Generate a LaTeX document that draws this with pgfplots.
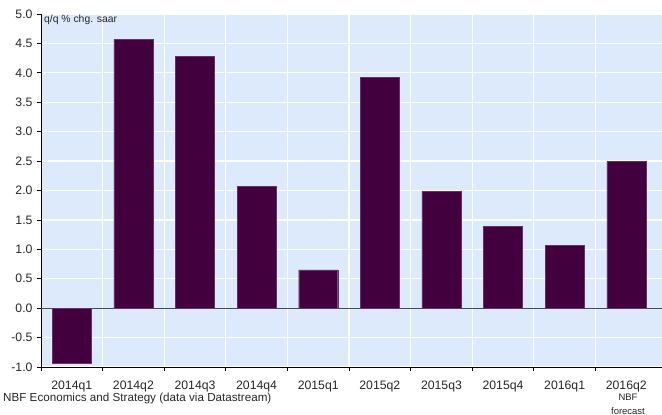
\documentclass[border=0pt]{standalone}
\usepackage{pgfplots}
\pgfplotsset{compat=1.18}
\usepackage{fontspec}
\setmainfont{Liberation Sans}
\definecolor{bgblue}{RGB}{221,234,251}
\definecolor{barpurple}{RGB}{66,0,62}
\definecolor{baredge}{RGB}{100,50,100}
\begin{document}
\begin{tikzpicture}
\path[use as bounding box] (0,0) rectangle (662bp,415bp);
\begin{axis}[
  anchor=south west, at={(41bp,48bp)},
  scale only axis, width=621bp, height=353bp,
  xmin=-0.5, xmax=9.58, ymin=-1, ymax=5,
  axis background/.style={fill=bgblue},
  axis lines*=left,
  axis line style={black, line width=0.9pt},
  ytick={-1,-0.5,...,5},
  y tick label style={/pgf/number format/fixed, /pgf/number format/fixed zerofill, /pgf/number format/precision=1},
  /pgf/number format/assume math mode=true,
  tick label style={font=\fontsize{12.3}{14}\selectfont, text=black!85},
  xtick={0,...,9},
  xticklabels={2014q1,2014q2,2014q3,2014q4,2015q1,2015q2,2015q3,2015q4,2016q1,2016q2},
  major x tick style={draw=none},
  minor xtick={-0.5,0.5,...,8.5},
  xminorgrids, ymajorgrids,
  minor grid style={white, line width=1.2pt},
  major grid style={white, line width=1.2pt},
  tick align=outside,
  major tick length=4bp, minor tick length=4bp,
  tick style={black, line width=0.8pt},
  xticklabel style={anchor=base, yshift=-18.5bp},
  yticklabel style={anchor=east, xshift=-1bp},
  ybar, bar width=0.633, bar shift=0pt,
  clip=false,
]
\draw[black!70, line width=0.8pt] (axis cs:-0.5,0) -- (axis cs:9.58,0);
\addplot[fill=barpurple, draw=baredge, line width=0.4pt] coordinates {
(0,-0.93) (1,4.57) (2,4.28) (3,2.07) (4,0.65) (5,3.92) (6,1.98) (7,1.39) (8,1.07) (9,2.49)};
\node[anchor=north west, inner sep=0pt, font=\fontsize{10.4}{12}\selectfont, text=black!85] at (rel axis cs:0,1) [xshift=3bp, yshift=-1bp] {q/q \% chg. saar};
\end{axis}
\node[anchor=base west, inner sep=0pt, font=\fontsize{11.7}{13}\selectfont, text=black!85] at (3bp,13.5bp) {NBF Economics and Strategy (data via Datastream)};
\node[anchor=base, inner sep=0pt, font=\fontsize{9.5}{11}\selectfont, text=black!85] at (628bp,14.5bp) {NBF};
\node[anchor=base, inner sep=0pt, font=\fontsize{9.5}{11}\selectfont, text=black!85] at (628bp,1bp) {forecast};
\end{tikzpicture}
\end{document}
